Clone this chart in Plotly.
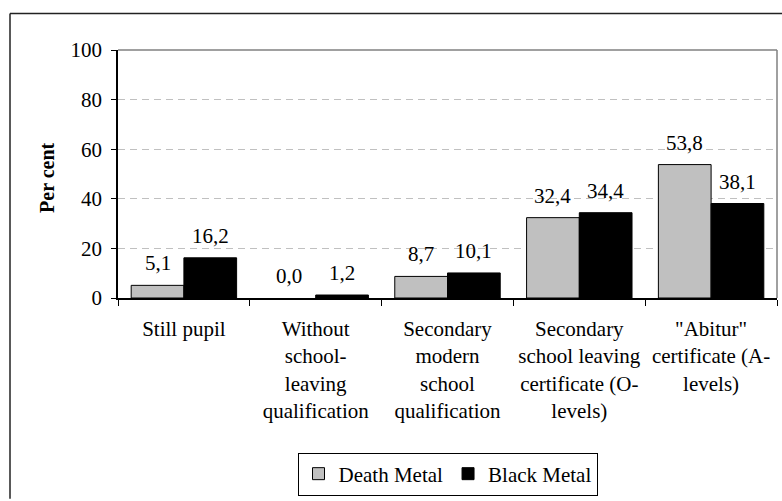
import plotly.graph_objects as go

# Education level of respondents, per cent
categories = [
    "Still pupil",
    "Without<br>school-<br>leaving<br>qualification",
    "Secondary<br>modern<br>school<br>qualification",
    "Secondary<br>school leaving<br>certificate (O-<br>levels)",
    "\"Abitur\"<br>certificate (A-<br>levels)",
]
death_metal = [5.1, 0.0, 8.7, 32.4, 53.8]
black_metal = [16.2, 1.2, 10.1, 34.4, 38.1]
y_ticks = [0, 20, 40, 60, 80, 100]

FONT = "Liberation Serif"
FS = 21
W, H = 782, 501
L, R, T, B = 118, 5, 50, 199
pw, ph = W - L - R, H - T - B


def fmt(v):
    return f"{v:.1f}".replace(".", ",")


def outline(vals):
    # no outline on empty bars
    return [0 if v == 0 else 1 for v in vals]


fig = go.Figure()
fig.add_trace(go.Bar(
    name="Death Metal", x=categories, y=death_metal,
    marker=dict(color="#c0c0c0", line=dict(color="black", width=outline(death_metal))),
))
fig.add_trace(go.Bar(
    name="Black Metal", x=categories, y=black_metal,
    marker=dict(color="#000000", line=dict(color="black", width=outline(black_metal))),
))

# value labels above each bar
annotations = []
for i, (d, b) in enumerate(zip(death_metal, black_metal)):
    for off, v in ((-0.2, d), (0.2, b)):
        annotations.append(dict(
            x=i + off, y=v, xref="x", yref="y", text=fmt(v),
            showarrow=False, yanchor="bottom", yshift=8,
            font=dict(family=FONT, size=FS, color="black"),
        ))

# y-axis title
annotations.append(dict(
    x=(47 - L) / pw, y=(H - B - 180) / ph, xref="paper", yref="paper",
    xanchor="center", yanchor="middle",
    text="<b>Per cent</b>", textangle=-90, showarrow=False,
    font=dict(family=FONT, size=FS - 1, color="black"),
))

shapes = [
    # plot area border (top and right)
    dict(type="line", xref="paper", yref="paper", x0=0, x1=1, y0=1, y1=1,
         line=dict(color="#808080", width=1.5)),
    dict(type="line", xref="paper", yref="paper", x0=1, x1=1, y0=0, y1=1,
         line=dict(color="#808080", width=1.5)),
    # outer chart frame
    dict(type="line", xref="paper", yref="paper",
         x0=(10 - L) / pw, x1=(W + 5 - L) / pw,
         y0=(H - B - 13) / ph, y1=(H - B - 13) / ph,
         line=dict(color="#222222", width=1.5)),
    dict(type="line", xref="paper", yref="paper",
         x0=(10 - L) / pw, x1=(10 - L) / pw,
         y0=(H - B - 13) / ph, y1=(H - B - H - 5) / ph,
         line=dict(color="#222222", width=1.5)),
]

fig.update_layout(
    width=W, height=H,
    margin=dict(l=L, r=R, t=T, b=B),
    paper_bgcolor="white", plot_bgcolor="white",
    barmode="group", bargap=0.2, bargroupgap=0,
    font=dict(family=FONT, size=FS, color="black"),
    showlegend=True,
    legend=dict(
        orientation="h", x=0.5, xanchor="center",
        y=(H - B - 459) / ph, yanchor="top",
        bordercolor="black", borderwidth=1,
        font=dict(family=FONT, size=FS, color="black"),
        itemwidth=30, tracegroupgap=0,
    ),
    annotations=annotations,
    shapes=shapes,
)
fig.update_xaxes(
    type="category", tickson="boundaries",
    showline=True, linecolor="black", linewidth=1.5,
    ticks="outside", ticklen=6, tickcolor="black", tickwidth=1,
    ticklabelstandoff=11,
    showgrid=False, zeroline=False,
    tickfont=dict(family=FONT, size=FS, color="black"),
)
fig.update_yaxes(
    range=[0, 100], tickvals=y_ticks,
    showline=True, linecolor="black", linewidth=1.5,
    ticks="outside", ticklen=5, tickcolor="black", tickwidth=1,
    ticklabelstandoff=5,
    showgrid=True, gridcolor="#c0c0c0", gridwidth=1, griddash="7px,5px",
    zeroline=False,
    tickfont=dict(family=FONT, size=FS, color="black"),
)

fig.write_html("out.html")
